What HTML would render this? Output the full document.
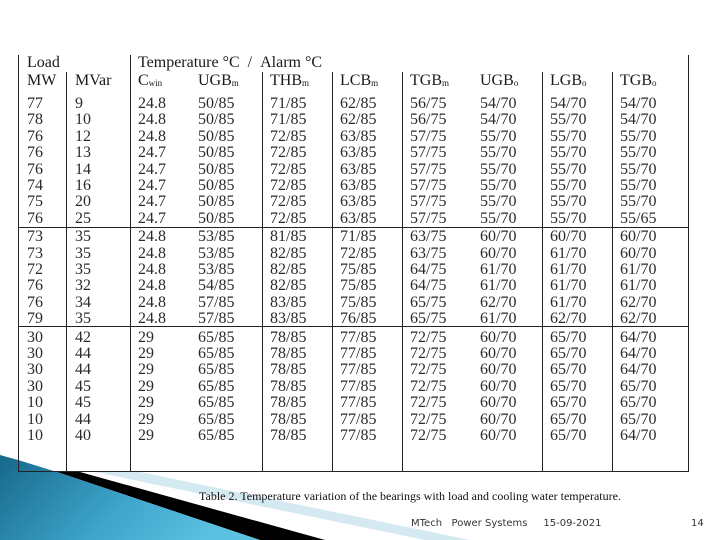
<!DOCTYPE html>
<html><head><meta charset="utf-8">
<style>
body{margin:0;width:720px;height:540px;background:#fff;overflow:hidden;position:relative;font-family:"Liberation Serif",serif;}
.t{position:absolute;font-size:16px;color:#2a2a2a;white-space:nowrap;line-height:16px;}
.h{position:absolute;font-size:16px;color:#1a1a1a;white-space:nowrap;line-height:16px;}
sub{font-size:9px;vertical-align:-1px;}
.vl{position:absolute;width:1px;background:#222;}
.hl{position:absolute;height:1px;background:#222;}
</style></head><body>
<svg width="720" height="540" style="position:absolute;left:0;top:0">
<defs><linearGradient id="g" x1="0" y1="0" x2="1" y2="0.3"><stop offset="0" stop-color="#16688a"/><stop offset="0.6" stop-color="#3fa6cc"/><stop offset="1" stop-color="#5cc0e0"/></linearGradient></defs>
<polygon points="95,472 140,472 470,540 425,540" fill="#d4e9f2"/>
<polygon points="57,472 80,472 325,540 260,540" fill="#000"/>
<polygon points="0,455 18,460 57,472 260,540 0,540" fill="url(#g)"/>
</svg>
<div id="tbl"></div>
<div class="t" style="left:199px;top:488px;font-size:12px;color:#111;">Table 2. Temperature variation of the bearings with load and cooling water temperature.</div>
<div class="t" style="left:411px;top:516px;font-size:10px;font-family:'DejaVu Sans',sans-serif;color:#333;">MTech&nbsp;&nbsp; Power Systems &nbsp;&nbsp;&nbsp; 15-09-2021</div>
<div class="t" style="left:691px;top:516px;font-size:10px;font-family:'DejaVu Sans',sans-serif;color:#333;">14</div>
<script>
const colX=[27,75,138,198,270,340,410,480,550,620];
const rows=[
["77","9","24.8","50/85","71/85","62/85","56/75","54/70","54/70","54/70"],
["78","10","24.8","50/85","71/85","62/85","56/75","54/70","55/70","54/70"],
["76","12","24.8","50/85","72/85","63/85","57/75","55/70","55/70","55/70"],
["76","13","24.7","50/85","72/85","63/85","57/75","55/70","55/70","55/70"],
["76","14","24.7","50/85","72/85","63/85","57/75","55/70","55/70","55/70"],
["74","16","24.7","50/85","72/85","63/85","57/75","55/70","55/70","55/70"],
["75","20","24.7","50/85","72/85","63/85","57/75","55/70","55/70","55/70"],
["76","25","24.7","50/85","72/85","63/85","57/75","55/70","55/70","55/65"],
["73","35","24.8","53/85","81/85","71/85","63/75","60/70","60/70","60/70"],
["73","35","24.8","53/85","82/85","72/85","63/75","60/70","61/70","60/70"],
["72","35","24.8","53/85","82/85","75/85","64/75","61/70","61/70","61/70"],
["76","32","24.8","54/85","82/85","75/85","64/75","61/70","61/70","61/70"],
["76","34","24.8","57/85","83/85","75/85","65/75","62/70","61/70","62/70"],
["79","35","24.8","57/85","83/85","76/85","65/75","61/70","62/70","62/70"],
["30","42","29","65/85","78/85","77/85","72/75","60/70","65/70","64/70"],
["30","44","29","65/85","78/85","77/85","72/75","60/70","65/70","64/70"],
["30","44","29","65/85","78/85","77/85","72/75","60/70","65/70","64/70"],
["30","45","29","65/85","78/85","77/85","72/75","60/70","65/70","65/70"],
["10","45","29","65/85","78/85","77/85","72/75","60/70","65/70","65/70"],
["10","44","29","65/85","78/85","77/85","72/75","60/70","65/70","65/70"],
["10","40","29","65/85","78/85","77/85","72/75","60/70","65/70","64/70"]];
const tbl=document.getElementById('tbl');
function add(cls,style,html,name){const d=document.createElement('div');d.className=cls;d.style.cssText=style;if(html!==null)d.innerHTML=html;


tbl.appendChild(d);}
const hdr=["MW","MVar","C<sub>win</sub>","UGB<sub>m</sub>","THB<sub>m</sub>","LCB<sub>m</sub>","TGB<sub>m</sub>","UGB<sub>o</sub>","LGB<sub>o</sub>","TGB<sub>o</sub>"];
add('h','left:27px;top:55px;','Load','header-load');
add('h','left:138px;top:55px;','Temperature °C &nbsp;/ &nbsp;Alarm °C','header-temperature');
hdr.forEach((h,i)=>add('h','left:'+colX[i]+'px;top:73px;',h,'column-header'));
rows.forEach((r,ri)=>{const g=ri<8?0:ri<14?1:2;const y=96+ri*16.4+g*2;
r.forEach((v,ci)=>add('t','left:'+colX[ci]+'px;top:'+y+'px;',v,'table-cell'));});
add('vl','left:18px;top:55px;height:417px;',null,'table-border-left');
add('vl','left:688px;top:55px;height:417px;',null,'table-border-right');
add('hl','left:18px;top:471px;width:671px;',null,'table-border-bottom');
add('hl','left:18px;top:227px;width:671px;',null,'group-divider');
add('hl','left:18px;top:326px;width:671px;',null,'group-divider');
add('vl','left:130px;top:55px;height:417px;',null,'column-divider');
[66,262,332,402,542,612].forEach(x=>add('vl','left:'+x+'px;top:72px;height:400px;',null,'column-divider'));
</script>
</body></html>
